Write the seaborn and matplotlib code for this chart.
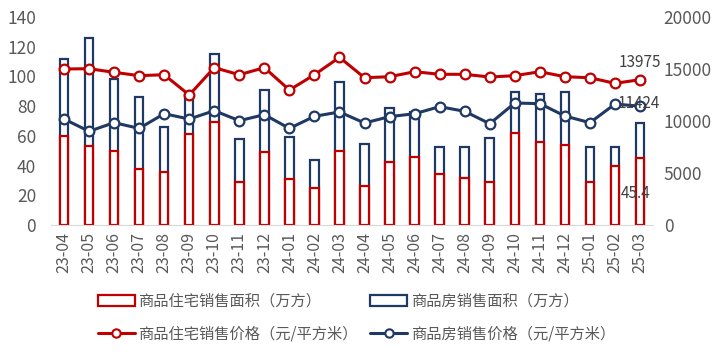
import numpy as np
import pandas as pd
import matplotlib
matplotlib.use("Agg")
import matplotlib.pyplot as plt
from matplotlib.patches import Patch
from matplotlib.lines import Line2D
import seaborn as sns

months = ["23-04", "23-05", "23-06", "23-07", "23-08", "23-09", "23-10", "23-11",
          "23-12", "24-01", "24-02", "24-03", "24-04", "24-05", "24-06", "24-07",
          "24-08", "24-09", "24-10", "24-11", "24-12", "25-01", "25-02", "25-03"]
# 销售面积（万方）
res_area = [60, 53, 50, 38, 36, 61, 69, 29, 49, 31, 25, 50,
            26.5, 42.6, 45.6, 34, 31.4, 29, 62, 56, 53.6, 28.7, 40, 45.4]
all_area = [112, 126, 98, 86, 66, 88, 115, 58, 91, 59, 44, 96.5,
            54.5, 79, 76, 52.7, 52.7, 58.7, 89.5, 88, 89.5, 52.7, 52.7, 68.6]
# 销售价格（元/平方米）
res_price = [15000, 15030, 14680, 14360, 14450, 12500, 15130, 14450, 15130, 12980, 14450, 16120,
             14160, 14260, 14740, 14490, 14490, 14230, 14360, 14740, 14260, 14160, 13620, 13975]
all_price = [10190, 9010, 9840, 9290, 10700, 10190, 10990, 10030, 10610, 9290, 10450, 10870,
             9810, 10420, 10700, 11380, 10930, 9740, 11730, 11670, 10480, 9840, 11630, 11424]

RED = "#C00000"
NAVY = "#1F3864"
GRAY = "#595959"

sns.set_style("white")
plt.rcParams['font.family'] = ['Noto Sans CJK SC', 'DejaVu Sans']
plt.rcParams['axes.unicode_minus'] = False

df = pd.DataFrame({"month": months, "idx": np.arange(len(months)),
                   "res_area": res_area, "all_area": all_area,
                   "res_price": res_price, "all_price": all_price})

fig = plt.figure(figsize=(7.13, 3.58), dpi=100)
ax = fig.add_axes([0.0722, 0.3715, 0.843, 0.581])

# bars: commercial total behind, residential in front
sns.barplot(data=df, x="month", y="all_area", color="white", edgecolor=NAVY,
            linewidth=1.6, width=0.34, saturation=1, ax=ax)
sns.barplot(data=df, x="month", y="res_area", color="white", edgecolor=RED,
            linewidth=1.6, width=0.34, saturation=1, ax=ax)
ax.set_ylim(0, 140)
ax.set_yticks(range(0, 141, 20))
ax.set_xlim(-0.5, len(months) - 0.5)

ax2 = ax.twinx()
sns.lineplot(data=df, x="idx", y="res_price", color=RED, linewidth=2.2,
             marker="o", markersize=7, markerfacecolor="white",
             markeredgecolor=RED, markeredgewidth=1.6, ax=ax2)
sns.lineplot(data=df, x="idx", y="all_price", color=NAVY, linewidth=2.2,
             marker="o", markersize=7, markerfacecolor="white",
             markeredgecolor=NAVY, markeredgewidth=1.6, ax=ax2)
ax2.set_ylim(0, 20000)
ax2.set_yticks(range(0, 20001, 5000))
ax2.set_xlim(-0.5, len(months) - 0.5)

for a in (ax, ax2):
    a.set_xlabel("")
    a.set_ylabel("")
    for s in ("top", "left", "right"):
        a.spines[s].set_visible(False)
    a.spines["bottom"].set_color("#D9D9D9")
    a.tick_params(axis="both", length=0, colors=GRAY, labelsize=12.5)
ax2.spines["bottom"].set_visible(False)
ax.tick_params(axis="y", pad=11)
ax2.tick_params(axis="y", pad=8)
ax.tick_params(axis="x", pad=5)
ax.set_xticks(range(len(months)))
ax.set_xticklabels(months, rotation=90, fontsize=11.5, color=GRAY)

# data labels
last = len(months) - 1
ax2.annotate(f"{res_price[-1]}", (last, res_price[-1]), xytext=(0, 12),
             textcoords="offset points", ha="center", va="center",
             fontsize=11, color="#404040")
ax2.annotate(f"{all_price[-1]}", (last, all_price[-1]), xytext=(-1, 2),
             textcoords="offset points", ha="center", va="center",
             fontsize=11, color="#404040")
ax.annotate(f"{res_area[-1]}", (last, res_area[-1]), xytext=(-3, -26),
            textcoords="offset points", ha="center", va="center",
            fontsize=11, color="#404040")

handles = [
    Patch(facecolor="white", edgecolor=RED, linewidth=1.6, label="商品住宅销售面积（万方）"),
    Line2D([], [], color=RED, linewidth=2.2, marker="o", markersize=6,
           markerfacecolor="white", markeredgecolor=RED, markeredgewidth=1.5,
           label="商品住宅销售价格（元/平方米）"),
    Patch(facecolor="white", edgecolor=NAVY, linewidth=1.6, label="商品房销售面积（万方）"),
    Line2D([], [], color=NAVY, linewidth=2.2, marker="o", markersize=6,
           markerfacecolor="white", markeredgecolor=NAVY, markeredgewidth=1.5,
           label="商品房销售价格（元/平方米）"),
]
leg = fig.legend(handles=handles, loc="center", bbox_to_anchor=(0.5, 0.113),
                 ncol=2, frameon=False, fontsize=11, handlelength=2.4,
                 handleheight=0.7, handletextpad=0.25, columnspacing=0.8,
                 labelspacing=1.05)
for t in leg.get_texts():
    t.set_color(GRAY)

fig.savefig("out.png", dpi=100)
